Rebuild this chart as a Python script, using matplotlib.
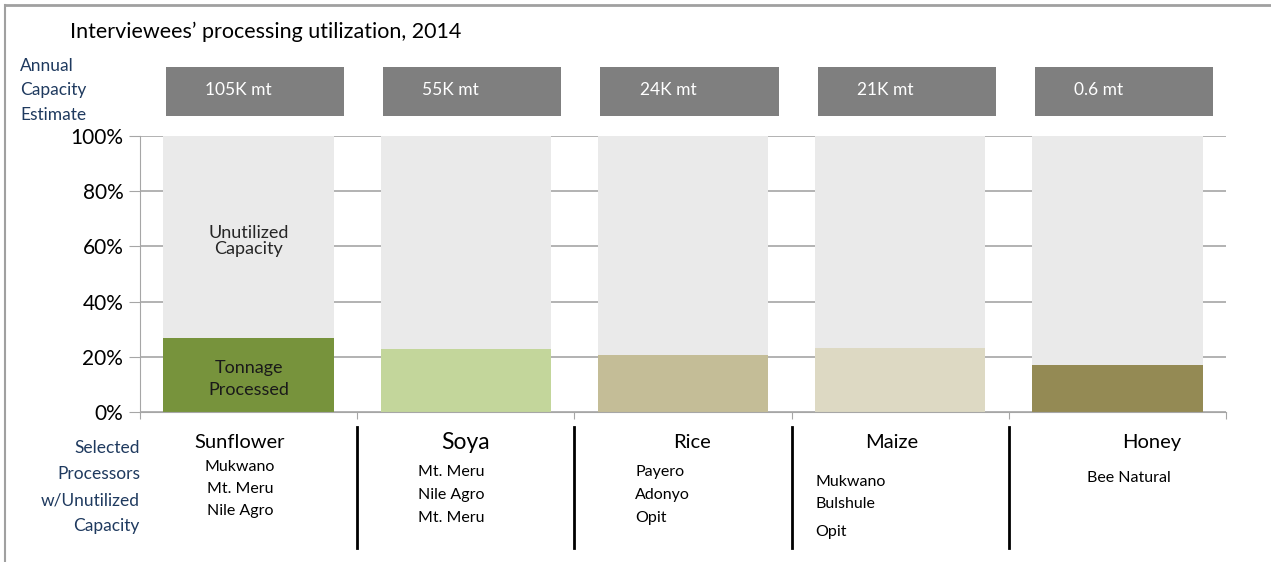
import matplotlib.pyplot as plt
import numpy as np

# data
crops = ["Sunflower", "Soya", "Rice", "Maize", "Honey"]
processed = [27, 22.8, 20.8, 23.1, 17]
capacity_labels = ["105K mt", "55K mt", "24K mt", "21K mt", "0.6 mt"]
processors = [
    ["Mukwano", "Mt. Meru", "Nile Agro"],
    ["Mt. Meru", "Nile Agro", "Mt. Meru"],
    ["Payero", "Adonyo", "Opit"],
    ["Mukwano", "Bulshule", "Opit"],
    ["Bee Natural"],
]
colors = ["#77933C", "#C3D69B", "#C4BD97", "#DDD9C3", "#948A54"]

plt.rcParams['font.family'] = ['Lato', 'DejaVu Sans']
navy = "#1F3A5F"

fig = plt.figure(figsize=(12.71, 5.62), dpi=100)
ax = fig.add_axes([0.1101, 0.2664, 0.8545, 0.4921])

x = np.arange(len(crops))
unused = [100 - p for p in processed]
ax.bar(x, processed, width=0.785, color=colors, zorder=2)
ax.bar(x, unused, bottom=processed, width=0.785, color="#EAEAEA", zorder=2)

ax.set_xlim(-0.5, 4.5)
ax.set_ylim(0, 100)
ax.set_yticks(np.arange(0, 101, 20))
ax.set_yticklabels([f"{v}%" for v in range(0, 101, 20)], fontsize=15)
ax.yaxis.grid(True, color="#A6A6A6", linewidth=1.2, zorder=0)
ax.set_xticks(np.arange(-0.5, 5, 1))
ax.set_xticklabels([])
ax.tick_params(axis="y", length=8, color="#A6A6A6", pad=4)
ax.tick_params(axis="x", length=5, color="#A6A6A6")
for s in ["top", "right"]:
    ax.spines[s].set_visible(False)
ax.spines["left"].set_color("#A6A6A6")
ax.spines["bottom"].set_color("#A6A6A6")

# labels in first bar
ax.text(0, 62, "Unutilized\nCapacity", ha="center", va="center", fontsize=13,
        color="#262626", linespacing=1.0, zorder=3)
ax.text(0, 12, "Tonnage\nProcessed", ha="center", va="center", fontsize=13,
        color="#1a1a1a", linespacing=1.45, zorder=3)

# capacity boxes above
ax.bar(x + 0.03, 18, bottom=107, width=0.82, color="#7F7F7F", clip_on=False, zorder=2)
for i, lab in enumerate(capacity_labels):
    ax.text(i - 0.2, 116.5, lab, ha="left", va="center", fontsize=12.5, color="white",
            clip_on=False)

# crop names and processors
name_shift = [-0.04, 0.0, 0.04, -0.04, 0.16]
proc_left = [0, -0.22, -0.22, -0.39, -0.14]
for i, (c, procs) in enumerate(zip(crops, processors)):
    fs = 16.5 if c == "Soya" else 14.5
    ax.text(i + name_shift[i], -11, c, ha="center", va="center", fontsize=fs,
            clip_on=False)
    for j, p in enumerate(procs):
        if i == 0:
            ax.text(i - 0.04, -19.8 - j * 7.9, p, ha="center", va="center", fontsize=11.5,
                    clip_on=False)
        elif i == 3:
            ax.text(i + proc_left[i], [-25.3, -33.3, -43.4][j], p, ha="left",
                    va="center", fontsize=11.5, clip_on=False)
        elif i == 4:
            ax.text(i + proc_left[i], -23.6, p, ha="left",
                    va="center", fontsize=11.5, clip_on=False)
        else:
            ax.text(i + proc_left[i], -21.5 - j * 8.3, p, ha="left",
                    va="center", fontsize=11.5, clip_on=False)

# separators
for b in [0.5, 1.5, 2.5, 3.5]:
    ax.plot([b, b], [-5.5, -49], color="black", linewidth=2, clip_on=False)

# left side texts
fig.text(70 / 1271, 1 - 32 / 562, "Interviewees\u2019 processing utilization, 2014",
         fontsize=15.5, va="center", ha="left")
for k, t in enumerate(["Annual", "Capacity", "Estimate"]):
    fig.text(20 / 1271, 1 - (66 + k * 24.5) / 562, t, fontsize=12.5, color=navy,
             va="center", ha="left")
for k, t in enumerate(["Selected", "Processors", "w/Unutilized", "Capacity"]):
    fig.text(140 / 1271, 1 - (448 + k * 26) / 562, t, fontsize=12.5, color=navy,
             va="center", ha="right")

# frame lines
fig.add_artist(plt.Line2D([5 / 1271, 1], [1 - 5 / 562, 1 - 5 / 562], color="#A0A0A0", lw=2))
fig.add_artist(plt.Line2D([5 / 1271, 5 / 1271], [0, 1 - 5 / 562], color="#A0A0A0", lw=1.5))

fig.savefig("out.png", dpi=100)
